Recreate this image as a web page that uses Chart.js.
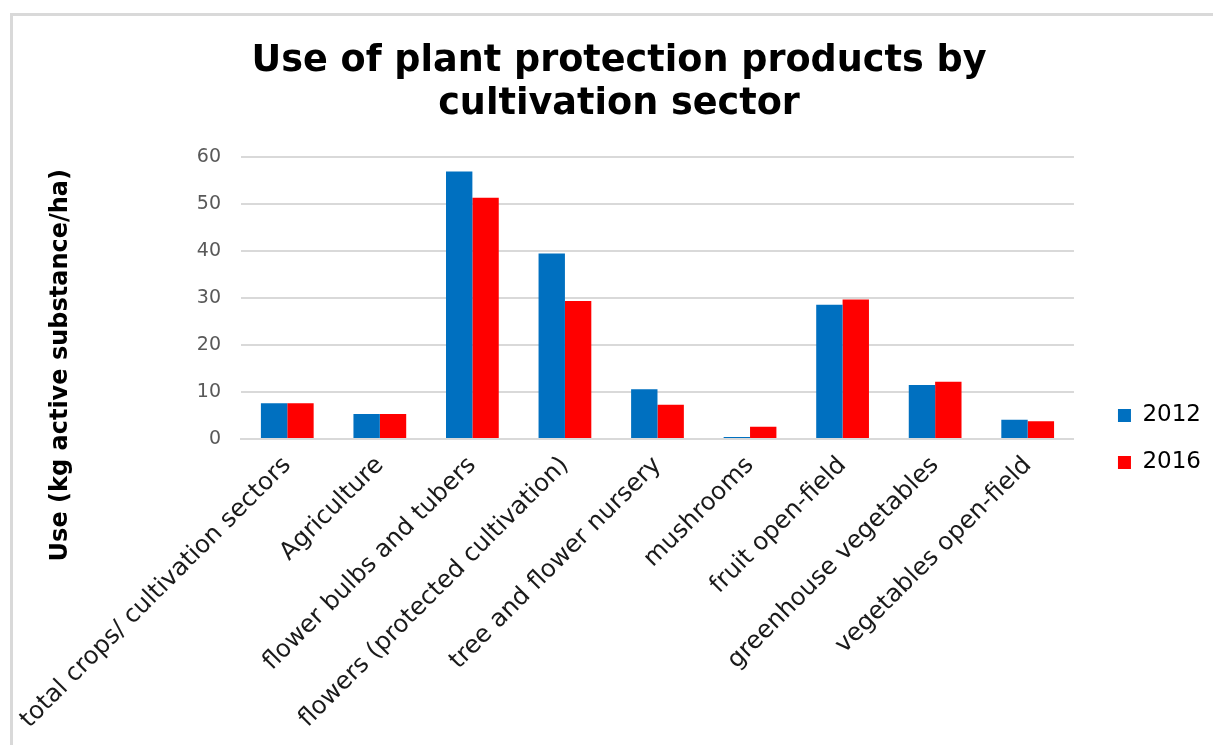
<!DOCTYPE html>
<html>
<head>
<meta charset="utf-8">
<script src="https://cdn.jsdelivr.net/npm/chart.js@4"></script>
<style>
  html, body { margin: 0; padding: 0; background: #fff; overflow: hidden; }
  #frame { position: absolute; left: 10px; top: 13px; right: -20px; bottom: -20px;
           border-left: 3px solid #d9d9d9; border-top: 3px solid #d9d9d9; }
  #wrap { position: absolute; left: 0; top: 0; width: 1213px; height: 745px; }
</style>
</head>
<body>
<div id="frame"></div>
<div id="wrap"><canvas id="chart"></canvas></div>
<script>
// sectors on the x axis
const sectors = [
  'total crops/ cultivation sectors',
  'Agriculture',
  'flower bulbs and tubers',
  'flowers (protected cultivation)',
  'tree and flower nursery',
  'mushrooms',
  'fruit open-field',
  'greenhouse vegetables',
  'vegetables open-field'
];
// kg active substance per ha
const use2012 = [7.6, 5.3, 57.0, 39.5, 10.6, 0.4, 28.6, 11.5, 4.1];
const use2016 = [7.6, 5.3, 51.4, 29.4, 7.3, 2.6, 29.7, 12.2, 3.8];
const years = ['2012', '2016'];

const FONT = '"DejaVu Sans", Verdana, sans-serif';

const excelLook = {
  id: 'excelLook',
  afterLayout(chart) {
    // legend sits a bit further right and level with the x axis
    const lg = chart.legend;
    const dy = chart.chartArea.bottom - (lg.top + lg.bottom) / 2;
    lg.left += 20; lg.right += 20;
    lg.top += dy; lg.bottom += dy;
  },
  afterDraw(chart) {
    // y axis title, Excel puts it a bit lower than the middle of the plot
    const ctx = chart.ctx;
    const area = chart.chartArea;
    ctx.save();
    ctx.translate(61, (area.top + area.bottom) / 2 + 67);
    ctx.rotate(-Math.PI / 2);
    ctx.font = 'bold 24px ' + FONT;
    ctx.fillStyle = '#000';
    ctx.textAlign = 'center';
    ctx.textBaseline = 'middle';
    ctx.fillText('Use (kg active substance/ha)', 0, 0);
    ctx.restore();
  }
};

const ctx = document.getElementById('chart').getContext('2d');
new Chart(ctx, {
  type: 'bar',
  data: {
    labels: sectors,
    datasets: [
      { label: years[0], data: use2012, backgroundColor: '#0070C0' },
      { label: years[1], data: use2016, backgroundColor: '#FF0000' }
    ]
  },
  options: {
    responsive: true,
    maintainAspectRatio: false,
    animation: false,
    categoryPercentage: 0.57,
    barPercentage: 1.0,
    layout: { padding: { left: 47, right: 22 } },
    plugins: {
      title: {
        display: true,
        text: ['Use of plant protection products by', 'cultivation sector'],
        color: '#000',
        font: { family: FONT, size: 36.6, weight: 'bold', lineHeight: 1.18 },
        padding: { top: 40, bottom: 31 }
      },
      legend: {
        position: 'right',
        labels: {
          color: '#000',
          font: { family: FONT, size: 23 },
          boxWidth: 13,
          boxHeight: 13,
          padding: 24
        }
      },
      tooltip: { enabled: false }
    },
    scales: {
      x: {
        grid: { display: false },
        border: { color: '#d9d9d9', width: 2 },
        ticks: {
          color: '#1a1a1a',
          font: { family: FONT, size: 24.5 },
          minRotation: 45,
          maxRotation: 45,
          autoSkip: false,
          padding: 4
        },
        afterFit(scale) { scale.height = 306; }
      },
      y: {
        min: 0,
        max: 60,
        ticks: {
          stepSize: 10,
          color: '#595959',
          font: { family: FONT, size: 19 },
          padding: 20
        },
        grid: { color: '#d9d9d9', lineWidth: 2, drawTicks: false },
        border: { display: false },
        afterFit(scale) { scale.width = 194; }
      }
    }
  },
  plugins: [excelLook]
});
</script>
</body>
</html>
